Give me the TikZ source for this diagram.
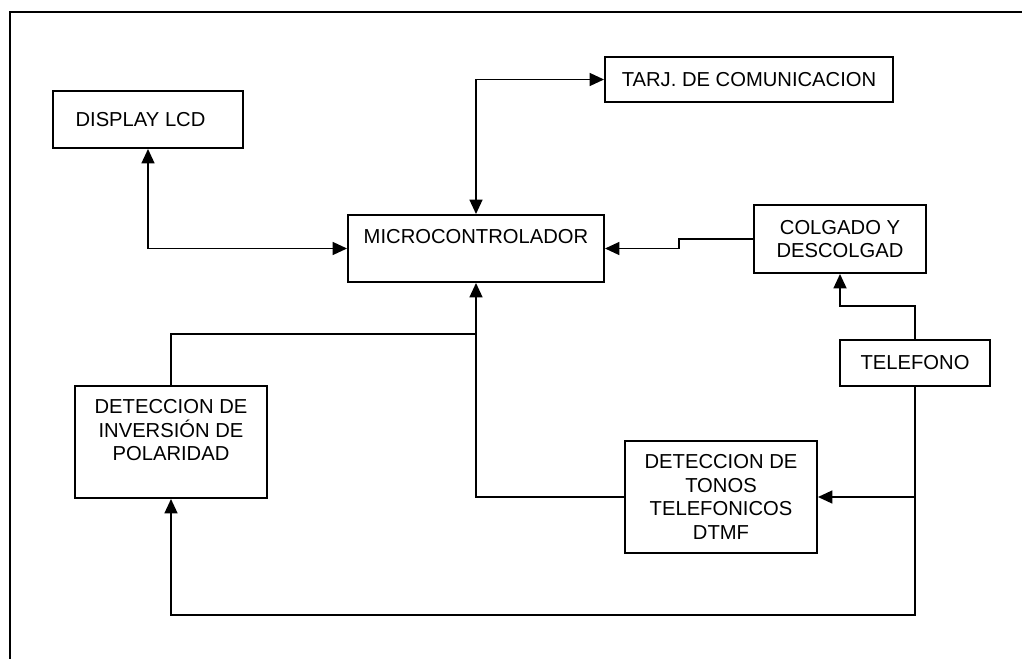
\documentclass[tikz,border=0pt]{standalone}
\usepackage{fontspec}
\setmainfont{Liberation Sans}
\usetikzlibrary{arrows.meta}

\begin{document}
\begin{tikzpicture}[x=1.0cm,y=1.0cm,
  blk/.style={draw,line width=1.1pt,align=center,inner sep=0pt,
    font=\fontsize{11.5}{13.4}\selectfont},
  wire/.style={line width=1pt,-{Triangle[length=2.9mm,width=2.6mm]}},
  bwire/.style={line width=1pt,{Triangle[length=2.9mm,width=2.6mm]}-{Triangle[length=2.9mm,width=2.6mm]}}]
\useasboundingbox (0,0) rectangle (20.44,13.18);
\draw [line width=0.8pt] (20.44,12.94) -- (0.2,12.94) -- (0.2,0.);
\node [blk,minimum width=3.8cm,minimum height=1.14cm] (lcd) at (2.96,10.79) {DISPLAY LCD\hspace{0.3cm}};
\node [blk,minimum width=5.76cm,minimum height=0.9cm] (tarj) at (14.98,11.59) {TARJ. DE COMUNICACION};
\node [blk,minimum width=5.12cm,minimum height=1.34cm] (mcu) at (9.52,8.21) {MICROCONTROLADOR\\ \mbox{}};
\node [blk,minimum width=3.44cm,minimum height=1.36cm] (colg) at (16.8,8.4) {COLGADO Y\\DESCOLGAD};
\node [blk,minimum width=3.0cm,minimum height=0.92cm] (tel) at (18.3,5.92) {TELEFONO};
\node [blk,minimum width=3.84cm,minimum height=2.24cm] (inv) at (3.42,4.34) {DETECCION DE\\INVERSI\'ON DE\\POLARIDAD\\ \mbox{}};
\node [blk,minimum width=3.84cm,minimum height=2.24cm] (dtmf) at (14.42,3.24) {DETECCION DE\\TONOS\\TELEFONICOS\\DTMF};
\coordinate (join) at (9.52,6.5);
\coordinate (bus) at (18.3,0.88);
\coordinate (tap) at (tel.south |- dtmf.east);
\draw [bwire] (lcd.south) |- (mcu.west);
\draw [bwire] (mcu.north) |- (tarj.west);
\draw [wire] (colg.west) -- ++(-1.48,0.) |- (mcu.east);
\draw [wire] (tel.north) -- ++(0.,0.66) -| (colg.south);
\draw [wire] (dtmf.west) -| (mcu.south);
\draw [line width=1pt] (inv.north) |- (join);
\draw [wire] (tel.south) -- (bus) -| (inv.south);
\draw [wire] (tap) -- (dtmf.east);
\end{tikzpicture}
\end{document}
